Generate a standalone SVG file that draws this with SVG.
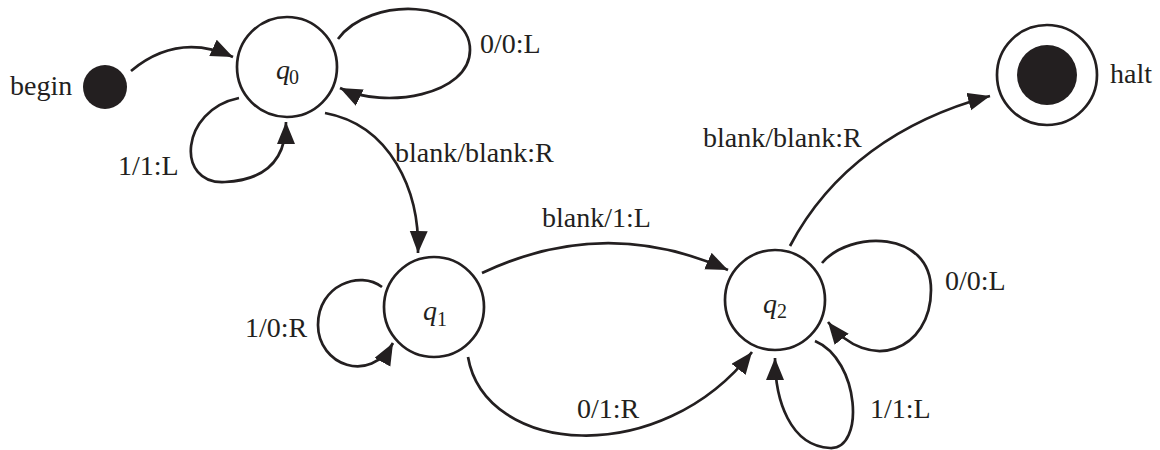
<svg xmlns="http://www.w3.org/2000/svg" width="1160" height="450" viewBox="0 0 1160 450">
<style>
.st{fill:#fff;stroke:#231f20;stroke-width:2.7}
.e{fill:none;stroke:#231f20;stroke-width:2.7;marker-end:url(#ah)}
text{font-family:"Liberation Serif","Times New Roman",serif;font-size:28px;fill:#231f20}
.q{font-style:italic}
.sub{font-style:normal;font-size:20px}
</style>
<defs>
<marker id="ah" markerUnits="userSpaceOnUse" markerWidth="24" markerHeight="20" refX="22" refY="9" orient="auto">
<path d="M0,0 L22,9 L0,18 z" fill="#231f20"/>
</marker>
</defs>
<rect width="1160" height="450" fill="#fff"/>
<g id="connectors">
<path class="e" d="M131,71 Q178,32 233,57"/>
<path class="e" d="M338,39 C370,-5 470,0 470,50 C470,95 385,110 340,88"/>
<path class="e" d="M239,98 C180,110 175,185 225,182 C265,180 286,160 286,122"/>
<path class="e" d="M325,113 C390,125 420,190 418,253"/>
<path class="e" d="M382,287 C360,270 318,285 318,325 C318,365 370,385 393,343"/>
<path class="e" d="M482,273 Q605,215 728,270"/>
<path class="e" d="M468,357 C485,455 660,470 752,352"/>
<path class="e" d="M822,263 C850,230 931,230 931,290 C931,350 870,375 828,322"/>
<path class="e" d="M815,341 C860,360 865,450 830,448 C790,446 775,400 775,358"/>
<path class="e" d="M790,246 C830,170 900,120 990,96"/>
<text x="480" y="53">0/0:L</text>
<text x="118" y="175">1/1:L</text>
<text x="395" y="162">blank/blank:R</text>
<text x="245" y="337">1/0:R</text>
<text x="542" y="227">blank/1:L</text>
<text x="577" y="418">0/1:R</text>
<text x="945" y="290">0/0:L</text>
<text x="870" y="418">1/1:L</text>
<text x="703" y="147">blank/blank:R</text>
</g>
<g id="begin">
<circle cx="105" cy="87" r="22" fill="#231f20"/>
<text x="10" y="95">begin</text>
</g>
<g id="q0">
<circle class="st" cx="287" cy="67" r="50"/>
<text class="q" x="276" y="79">q<tspan class="sub" x="289" y="84">0</tspan></text>
</g>
<g id="q1">
<circle class="st" cx="434" cy="307" r="50"/>
<text class="q" x="423" y="320">q<tspan class="sub" x="437" y="326">1</tspan></text>
</g>
<g id="q2">
<circle class="st" cx="775" cy="300" r="50"/>
<text class="q" x="763" y="313">q<tspan class="sub" x="777" y="318">2</tspan></text>
</g>
<g id="halt">
<circle class="st" cx="1047" cy="75" r="50"/>
<circle cx="1047" cy="75" r="30" fill="#231f20"/>
<text x="1110" y="83">halt</text>
</g>
</svg>
